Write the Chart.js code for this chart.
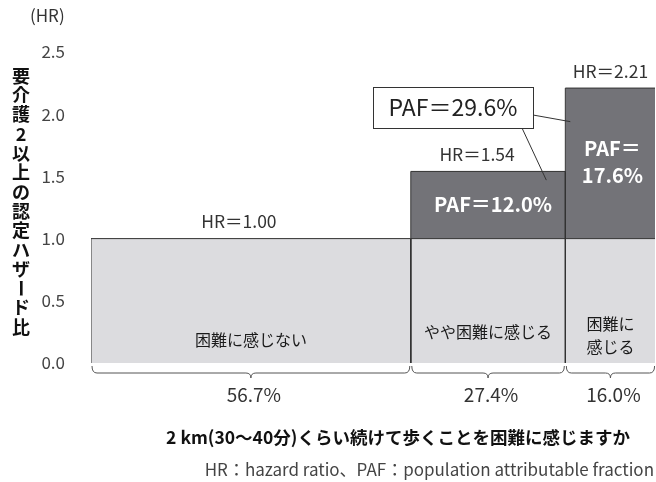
<!DOCTYPE html>
<html>
<head>
<meta charset="utf-8">
<script src="https://cdn.jsdelivr.net/npm/chart.js@4/dist/chart.umd.min.js"></script>
<style>
  html, body { margin: 0; padding: 0; background: #fff; }
  #wrap { width: 656px; height: 482px; }
</style>
</head>
<body>
<div id="wrap"><canvas id="hrChart" width="656" height="482"></canvas></div>
<script>
// --- data ---
const categories = ['困難に感じない', 'やや困難に感じる', '困難に感じる'];
const categoryLines = [['困難に感じない'], ['やや困難に感じる'], ['困難に', '感じる']];
const shares = [56.7, 27.4, 16.0];          // % of respondents (bar widths)
const hazardRatios = [1.00, 1.54, 2.21];    // bar heights
const pafValues = [null, 12.0, 17.6];       // PAF per group
const totalPaf = 29.6;
const yTicks = [0, 0.5, 1.0, 1.5, 2.0, 2.5];
const refHR = 1.0;

const FONT = '"Noto Sans CJK JP", "Noto Sans", sans-serif';
const LIGHT = '#dcdcdf';
const DARK = '#737378';
const EDGE = '#333';

// small label nudges, px
const hrLabelShift = [-12, -11, 0];
const catLabelY = [[340], [332], [324, 347]];

// cumulative x positions for variable width bars
const xStart = [];
let acc = 0;
shares.forEach(s => { xStart.push(acc); acc += s; });

function rect(x0, x1, y0, y1, color) {
    return {
        data: [{ x: x0, y: y0 }, { x: x0, y: y1 }, { x: x1, y: y1 }, { x: x1, y: y0 }],
        borderColor: EDGE,
        borderWidth: 1,
        backgroundColor: color,
        fill: { value: y0 },
        pointRadius: 0,
        tension: 0
    };
}

const datasets = [];
hazardRatios.forEach((hr, i) => {
    const x0 = xStart[i], x1 = xStart[i] + shares[i];
    datasets.push(rect(x0, x1, 0, Math.min(hr, refHR), LIGHT));
    if (hr > refHR) datasets.push(rect(x0, x1, refHR, hr, DARK));
});
// baseline along HR = 0
datasets.push({
    data: [{ x: 0, y: 0 }, { x: acc, y: 0 }],
    borderColor: EDGE, borderWidth: 1, pointRadius: 0, fill: false
});

const annotatePlugin = {
    id: 'annotate',
    afterDatasetsDraw(chart) {
        const ctx = chart.ctx;
        const xs = chart.scales.x, ys = chart.scales.y;
        ctx.save();
        ctx.textAlign = 'center';
        ctx.textBaseline = 'middle';

        categories.forEach((c, i) => {
            const x0 = xs.getPixelForValue(xStart[i]);
            const x1 = xs.getPixelForValue(xStart[i] + shares[i]);
            const cx = (x0 + x1) / 2;
            const hr = hazardRatios[i];

            // HR label above the bar
            ctx.fillStyle = '#333';
            ctx.font = '17.5px ' + FONT;
            ctx.fillText('HR＝' + hr.toFixed(2), cx + hrLabelShift[i], ys.getPixelForValue(hr) - 17);

            // category text inside the light part
            ctx.font = '16px ' + FONT;
            ctx.fillStyle = '#1a1a1a';
            categoryLines[i].forEach((l, k) => ctx.fillText(l, cx, catLabelY[i][k]));

            // PAF label inside the dark part
            if (pafValues[i] != null) {
                ctx.fillStyle = '#fff';
                ctx.font = 'bold 20px ' + FONT;
                const midY = (ys.getPixelForValue(refHR) + ys.getPixelForValue(hr)) / 2;
                if (x1 - x0 > 130) {
                    ctx.fillText('PAF＝' + pafValues[i].toFixed(1) + '%', cx + 5, midY - 1);
                } else {
                    ctx.fillText('PAF＝', cx + 2, midY - 15);
                    ctx.fillText(pafValues[i].toFixed(1) + '%', cx + 2, midY + 12);
                }
            }

            // brace under each bar
            const by = ys.getPixelForValue(0) + 3;
            const depth = 7;
            ctx.strokeStyle = '#555';
            ctx.lineWidth = 1;
            ctx.beginPath();
            ctx.moveTo(x0 + 1, by);
            ctx.quadraticCurveTo(x0 + 1, by + depth, x0 + 6, by + depth);
            ctx.lineTo(cx - 5, by + depth);
            ctx.quadraticCurveTo(cx, by + depth, cx, by + depth + 5);
            ctx.quadraticCurveTo(cx, by + depth, cx + 5, by + depth);
            ctx.lineTo(x1 - 6, by + depth);
            ctx.quadraticCurveTo(x1 - 1, by + depth, x1 - 1, by);
            ctx.stroke();

            // share label
            ctx.fillStyle = '#333';
            ctx.font = '19px ' + FONT;
            ctx.fillText(shares[i].toFixed(1) + '%', cx + 3, 395);
        });

        // total PAF box with leader lines
        const bx0 = 373, bx1 = 533, byTop = 87, byBot = 128;
        const x3 = xs.getPixelForValue(xStart[2]);
        ctx.strokeStyle = '#333';
        ctx.lineWidth = 1;
        ctx.beginPath();
        ctx.moveTo(bx1, 115);
        ctx.lineTo(x3 + 5, ys.getPixelForValue(1.94));
        ctx.moveTo(bx1 - 11, byBot);
        ctx.lineTo(x3 - 19, ys.getPixelForValue(1.47));
        ctx.stroke();
        ctx.fillStyle = '#fff';
        ctx.fillRect(bx0, byTop, bx1 - bx0, byBot - byTop);
        ctx.strokeRect(bx0 + 0.5, byTop + 0.5, bx1 - bx0, byBot - byTop);
        ctx.fillStyle = '#222';
        ctx.font = '23px ' + FONT;
        ctx.fillText('PAF＝' + totalPaf.toFixed(1) + '%', (bx0 + bx1) / 2, (byTop + byBot) / 2);

        // axis unit and titles
        ctx.fillStyle = '#333';
        ctx.font = '17px ' + FONT;
        ctx.textAlign = 'left';
        ctx.fillText('(HR)', 30, 16);

        ctx.fillStyle = '#111';
        ctx.font = 'bold 18px ' + FONT;
        ctx.textAlign = 'center';
        const yTitle = '要介護2以上の認定ハザード比';
        [...yTitle].forEach((ch, k) => {
            const y = 76 + k * 19.3;
            if (ch === 'ー') {
                ctx.save();
                ctx.translate(21, y);
                ctx.rotate(Math.PI / 2);
                ctx.fillText(ch, 0, 0);
                ctx.restore();
            } else {
                ctx.fillText(ch, 21, y);
            }
        });

        ctx.font = 'bold 17.5px ' + FONT;
        ctx.fillText('2 km(30〜40分)くらい続けて歩くことを困難に感じますか', 398, 437);

        ctx.fillStyle = '#444';
        ctx.font = '17px ' + FONT;
        ctx.textAlign = 'right';
        ctx.fillText('HR：hazard ratio、PAF：population attributable fraction', 654, 470);
        ctx.restore();
    }
};

new Chart(document.getElementById('hrChart'), {
    type: 'line',
    data: { datasets: datasets },
    options: {
        responsive: false,
        animation: false,
        layout: { padding: { top: 52, bottom: 119, left: 0, right: 1 } },
        plugins: { legend: { display: false }, tooltip: { enabled: false } },
        scales: {
            x: { type: 'linear', min: 0, max: 100, display: false },
            y: {
                min: 0, max: 2.5,
                afterFit: s => { s.width = 91; },
                afterBuildTicks: s => { s.ticks = yTicks.map(v => ({ value: v })); },
                grid: { display: false, drawTicks: false },
                border: { display: false },
                ticks: {
                    padding: 26,
                    color: '#444',
                    font: { family: FONT, size: 17 },
                    callback: v => v.toFixed(1)
                }
            }
        }
    },
    plugins: [annotatePlugin]
});
</script>
</body>
</html>
